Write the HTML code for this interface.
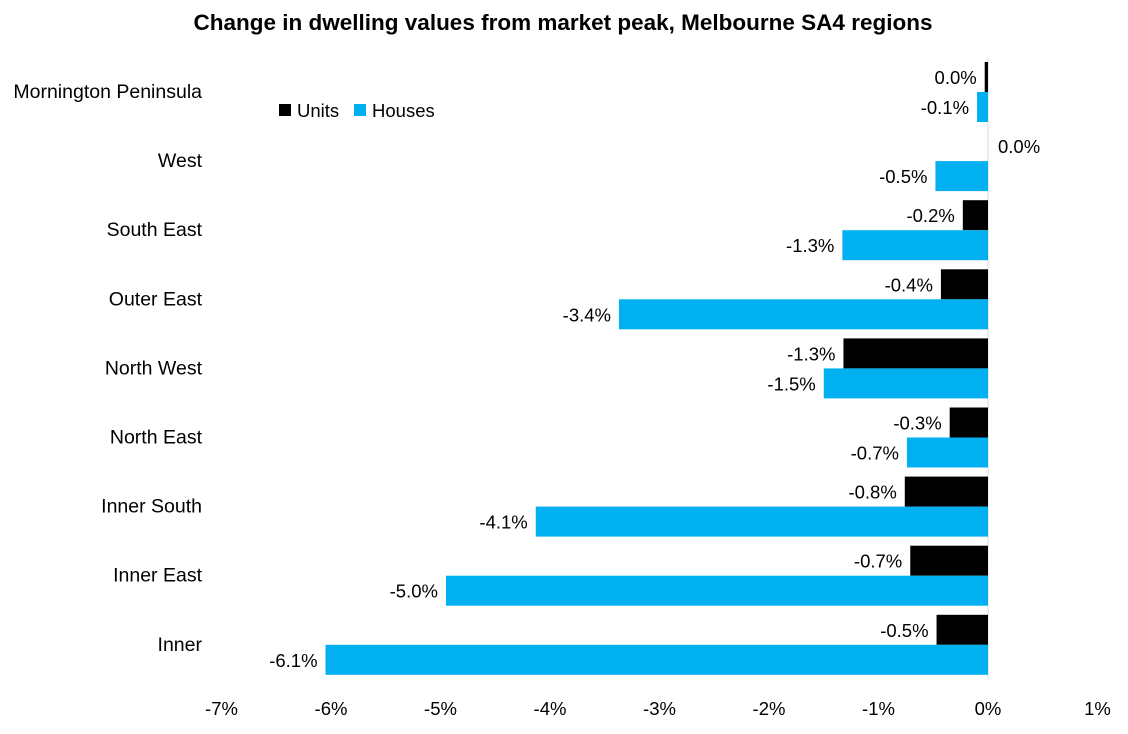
<!DOCTYPE html>
<html><head><meta charset="utf-8"><style>
body{margin:0;background:#fff;width:1128px;height:729px;overflow:hidden;font-family:"Liberation Sans",Arial,sans-serif}
svg text{font-family:"Liberation Sans",Arial,sans-serif}
</style></head><body>
<svg id="chart" width="1128" height="729" xmlns="http://www.w3.org/2000/svg">
<text x="563" y="30" text-anchor="middle" font-size="22.5" font-weight="bold" fill="#000">Change in dwelling values from market peak, Melbourne SA4 regions</text>
<g>
<rect x="279" y="104" width="12" height="12" fill="#000"/>
<text x="297" y="117" font-size="18.5">Units</text>
<rect x="354" y="104" width="12" height="12" fill="#00B0F0"/>
<text x="372" y="117" font-size="18.5">Houses</text>
</g>
</svg>
<script>
const categories=["Mornington Peninsula","West","South East","Outer East","North West","North East","Inner South","Inner East","Inner"];
const units=[-0.03,0.0,-0.23,-0.43,-1.32,-0.35,-0.76,-0.71,-0.47];
const houses=[-0.1,-0.48,-1.33,-3.37,-1.5,-0.74,-4.13,-4.95,-6.05];
const unitLabels=["0.0%","0.0%","-0.2%","-0.4%","-1.3%","-0.3%","-0.8%","-0.7%","-0.5%"];
const houseLabels=["-0.1%","-0.5%","-1.3%","-3.4%","-1.5%","-0.7%","-4.1%","-5.0%","-6.1%"];
const ticks=[-7,-6,-5,-4,-3,-2,-1,0,1];
const tickLabels=["-7%","-6%","-5%","-4%","-3%","-2%","-1%","0%","1%"];
const svg=document.getElementById('chart');
const NS='http://www.w3.org/2000/svg';
const x=v=>988+v*109.5;
const rowC=i=>92+i*69.1;
function mk(t,a){const e=document.createElementNS(NS,t);for(const k in a)e.setAttribute(k,a[k]);svg.appendChild(e);return e;}
const ax=mk('line',{x1:x(0),x2:x(0),y1:58,y2:679,stroke:'#d9d9d9','stroke-width':1});


ticks.forEach((t,i)=>{const e=mk('text',{x:x(t),y:715,'text-anchor':'middle','font-size':18.5});e.textContent=tickLabels[i];

});
categories.forEach((c,i)=>{
 const cy=rowC(i);
 const l=mk('text',{x:202,y:cy+6,'text-anchor':'end','font-size':19.5});l.textContent=c;
 
 
 [[units[i],unitLabels[i],'#000',cy-30,'units'],[houses[i],houseLabels[i],'#00B0F0',cy,'houses']].forEach(([v,lab,col,y0,s])=>{
  const x0=Math.min(x(v),x(0)),w=Math.abs(x(v)-x(0));
  const r=mk('rect',{x:x0,y:y0,width:w,height:30,fill:col});
  
  
  const pos=v>=0;
  const t=mk('text',{x:pos?x(v)+10:x(v)-8,y:y0+22,'text-anchor':pos?'start':'end','font-size':18.5});t.textContent=lab;
  
  
 });
});
</script>
</body></html>
